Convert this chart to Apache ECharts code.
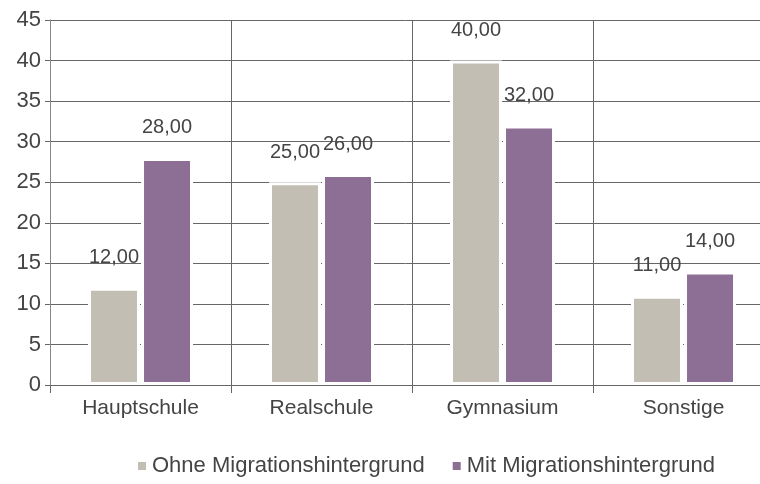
<!DOCTYPE html>
<html>
<head>
<meta charset="utf-8">
<script src="https://cdn.jsdelivr.net/npm/echarts@6/dist/echarts.min.js"></script>
<style>
  html, body { margin: 0; padding: 0; background: #fff; }
  #main { width: 760px; height: 484px; }
</style>
</head>
<body>
<div id="main"></div>
<script>
var categories = ['Hauptschule', 'Realschule', 'Gymnasium', 'Sonstige'];
var ohneMigration = [12, 25, 40, 11];
var mitMigration = [28, 26, 32, 14];
var seriesNames = ['Ohne Migrationshintergrund', 'Mit Migrationshintergrund'];

var colors = ['#c3beb3', '#8d6e94'];
var chart = echarts.init(document.getElementById('main'));

function fmt(p) {
  return p.value.toFixed(2).replace('.', ',');
}

var option = {
  color: colors,
  textStyle: { fontFamily: 'Liberation Sans, Arial, sans-serif' },
  grid: {
    left: 50,
    width: 724,
    top: 20,
    bottom: 99,
    outerBoundsMode: 'none'
  },
  legend: {
    data: seriesNames,
    bottom: 2,
    left: 131,
    itemWidth: 10,
    itemHeight: 10,
    itemGap: 26,
    icon: 'rect',
    textStyle: { fontSize: 22, color: '#444' }
  },
  xAxis: {
    type: 'category',
    data: categories,
    axisLine: { lineStyle: { color: '#666', width: 1 } },
    axisTick: { show: true, length: 8, lineStyle: { color: '#666' } },
    axisLabel: { fontSize: 21, color: '#444', margin: 13 },
    splitLine: { show: true, lineStyle: { color: '#666', width: 1 } }
  },
  yAxis: {
    type: 'value',
    min: 0,
    max: 45,
    interval: 5,
    axisLine: { show: true, lineStyle: { color: '#888' } },
    axisTick: { show: true, length: 5, lineStyle: { color: '#666' } },
    axisLabel: { fontSize: 22, color: '#444', margin: 9 },
    splitLine: { lineStyle: { color: '#666', width: 1 } }
  },
  series: [
    {
      name: seriesNames[0],
      type: 'bar',
      data: ohneMigration,
      barWidth: 52,
      barGap: '2%',
      itemStyle: { borderColor: '#fff', borderWidth: 3 },
      label: {
        show: true,
        position: 'top',
        distance: 20,
        fontSize: 20,
        color: '#444',
        formatter: fmt
      }
    },
    {
      name: seriesNames[1],
      type: 'bar',
      data: mitMigration,
      barWidth: 52,
      itemStyle: { borderColor: '#fff', borderWidth: 3 },
      label: {
        show: true,
        position: 'top',
        distance: 20,
        fontSize: 20,
        color: '#444',
        formatter: fmt
      }
    }
  ]
};

chart.setOption(option);
</script>
</body>
</html>
